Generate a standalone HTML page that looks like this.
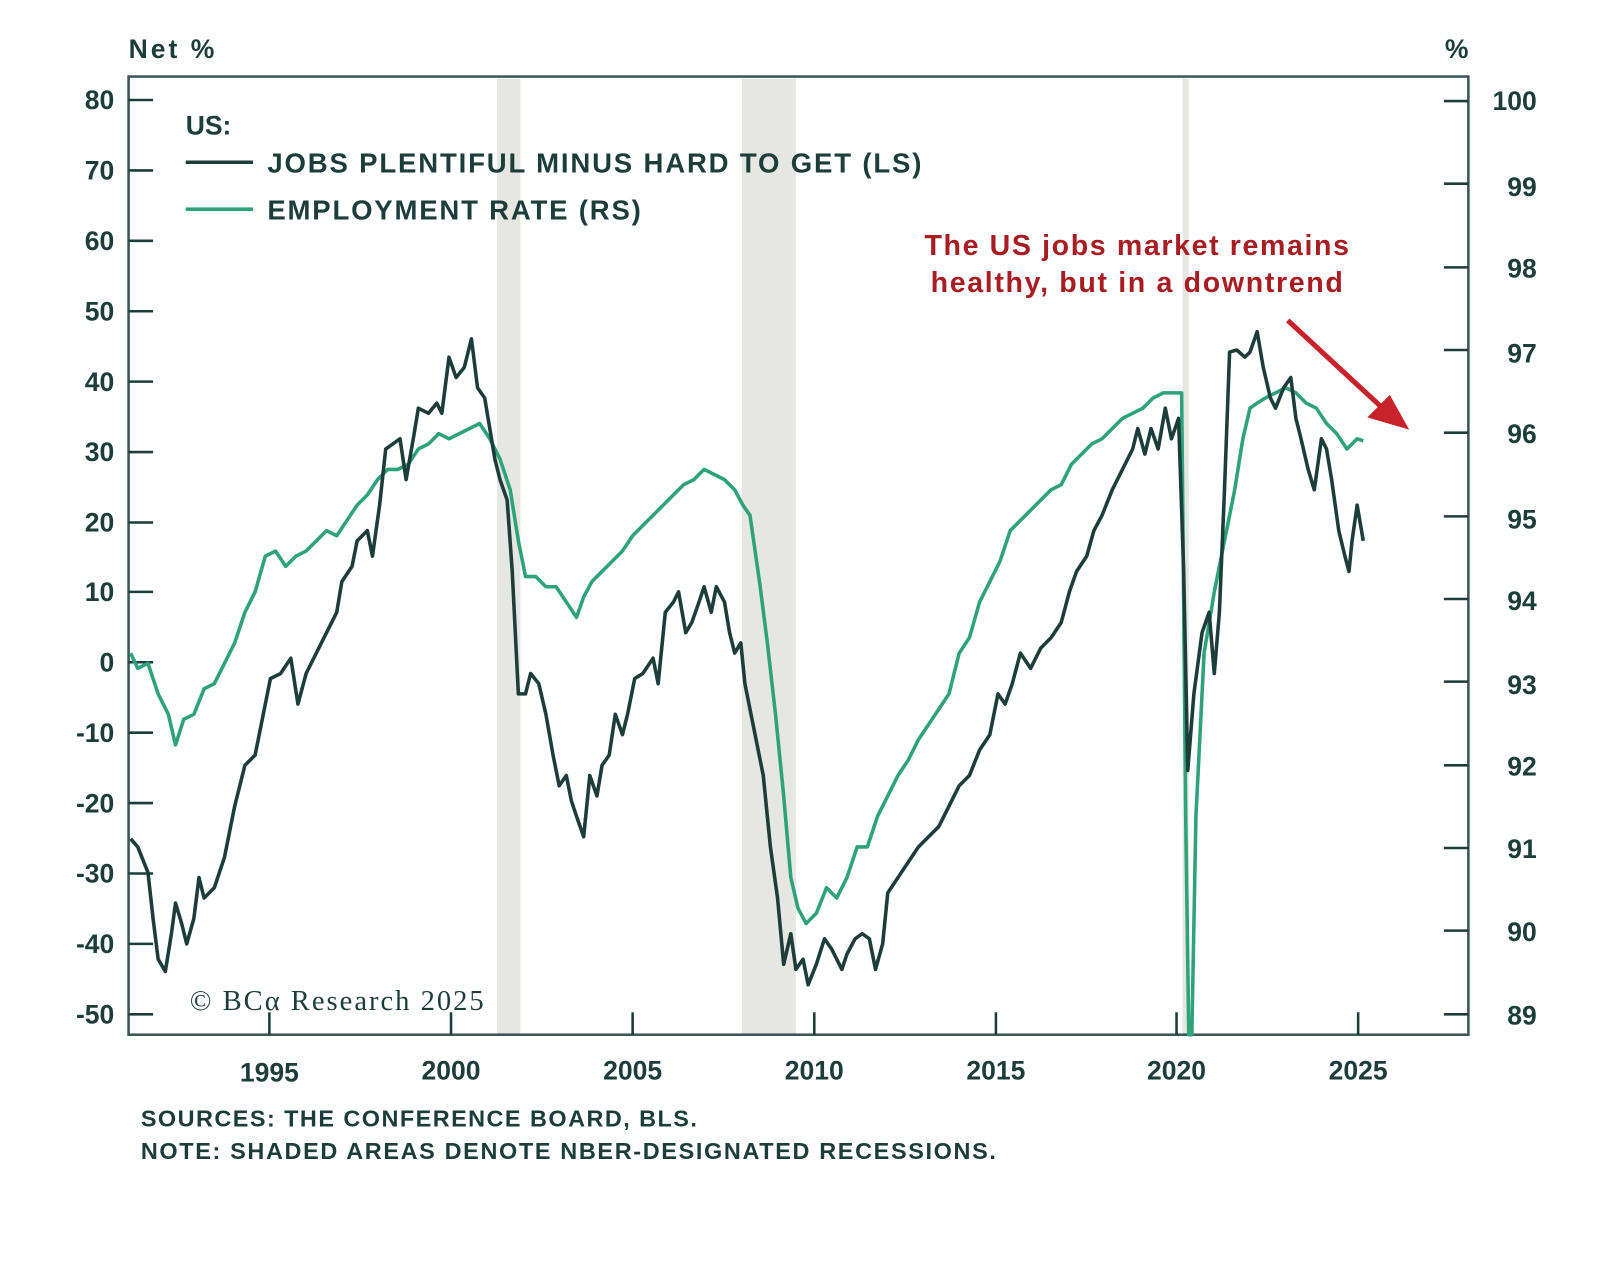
<!DOCTYPE html>
<html><head><meta charset="utf-8"><style>
html,body{margin:0;padding:0;background:#fff;}
svg{display:block;}
text{font-family:"Liberation Sans",sans-serif;fill:#1d3d3b;font-weight:bold;}
</style></head><body>
<svg width="1600" height="1263" viewBox="0 0 1568 1237.7" xmlns="http://www.w3.org/2000/svg">
<rect x="487" y="77" width="23" height="937" fill="#e6e6e2"/>
<rect x="727" y="77" width="53" height="937" fill="#e6e6e2"/>
<rect x="1159" y="77" width="6" height="937" fill="#e6e6e2"/>
<rect x="126" y="75" width="1313" height="939" fill="none" stroke="#3c5556" stroke-width="2.5"/>
<g stroke="#1d3d3b" stroke-width="2.5">
<line x1="126" y1="98" x2="150" y2="98"/><line x1="126" y1="167" x2="150" y2="167"/><line x1="126" y1="236" x2="150" y2="236"/><line x1="126" y1="305" x2="150" y2="305"/><line x1="126" y1="374" x2="150" y2="374"/><line x1="126" y1="443" x2="150" y2="443"/><line x1="126" y1="512" x2="150" y2="512"/><line x1="126" y1="580" x2="150" y2="580"/><line x1="126" y1="649" x2="150" y2="649"/><line x1="126" y1="718" x2="150" y2="718"/><line x1="126" y1="787" x2="150" y2="787"/><line x1="126" y1="856" x2="150" y2="856"/><line x1="126" y1="925" x2="150" y2="925"/><line x1="126" y1="994" x2="150" y2="994"/>
<line x1="1415" y1="99" x2="1439" y2="99"/><line x1="1415" y1="180" x2="1439" y2="180"/><line x1="1415" y1="262" x2="1439" y2="262"/><line x1="1415" y1="343" x2="1439" y2="343"/><line x1="1415" y1="424" x2="1439" y2="424"/><line x1="1415" y1="506" x2="1439" y2="506"/><line x1="1415" y1="587" x2="1439" y2="587"/><line x1="1415" y1="668" x2="1439" y2="668"/><line x1="1415" y1="750" x2="1439" y2="750"/><line x1="1415" y1="831" x2="1439" y2="831"/><line x1="1415" y1="912" x2="1439" y2="912"/><line x1="1415" y1="994" x2="1439" y2="994"/>
<line x1="264" y1="1014" x2="264" y2="992"/><line x1="442" y1="1014" x2="442" y2="992"/><line x1="620" y1="1014" x2="620" y2="992"/><line x1="798" y1="1014" x2="798" y2="992"/><line x1="976" y1="1014" x2="976" y2="992"/><line x1="1153" y1="1014" x2="1153" y2="992"/><line x1="1331" y1="1014" x2="1331" y2="992"/>
</g>
<g font-size="26" text-anchor="end">
<text x="112" y="107">80</text><text x="112" y="176">70</text><text x="112" y="245">60</text><text x="112" y="314">50</text><text x="112" y="383">40</text><text x="112" y="452">30</text><text x="112" y="521">20</text><text x="112" y="589">10</text><text x="112" y="658">0</text><text x="112" y="727">-10</text><text x="112" y="796">-20</text><text x="112" y="865">-30</text><text x="112" y="934">-40</text><text x="112" y="1003">-50</text>
</g>
<g font-size="26" text-anchor="end">
<text x="1506" y="108">100</text><text x="1506" y="192">99</text><text x="1506" y="272">98</text><text x="1506" y="355">97</text><text x="1506" y="434">96</text><text x="1506" y="518">95</text><text x="1506" y="598">94</text><text x="1506" y="680">93</text><text x="1506" y="760">92</text><text x="1506" y="841">91</text><text x="1506" y="922">90</text><text x="1506" y="1004">89</text>
</g>
<g font-size="26" text-anchor="middle">
<text x="264" y="1060">1995</text><text x="442" y="1058">2000</text><text x="620" y="1058">2005</text><text x="798" y="1058">2010</text><text x="976" y="1058">2015</text><text x="1153" y="1058">2020</text><text x="1331" y="1058">2025</text>
</g>
<text x="126" y="57" font-size="26" textLength="84">Net %</text>
<text x="1416" y="57" font-size="26">%</text>
<text x="182" y="132" font-size="26">US:</text>
<line x1="182" y1="159" x2="248" y2="159" stroke="#1d3d3b" stroke-width="3.5"/>
<line x1="182" y1="205" x2="248" y2="205" stroke="#2ea37a" stroke-width="3.5"/>
<text x="262" y="169" font-size="27" textLength="641">JOBS PLENTIFUL MINUS HARD TO GET (LS)</text>
<text x="262" y="215" font-size="27" textLength="366">EMPLOYMENT RATE (RS)</text>
<text x="906" y="250" font-size="28" textLength="416" style="fill:#a71d22">The US jobs market remains</text>
<text x="912" y="286" font-size="28" textLength="404" style="fill:#a71d22">healthy, but in a downtrend</text>
<line x1="1262" y1="314" x2="1355" y2="400" stroke="#c8232a" stroke-width="5"/>
<polygon points="1381,421 1340,409 1362,387" fill="#c8232a"/>
<text x="186" y="990" font-size="28" textLength="288" style="font-family:'Liberation Serif',serif;font-weight:normal">© BCα Research 2025</text>
<text x="138" y="1104" font-size="23" textLength="545">SOURCES: THE CONFERENCE BOARD, BLS.</text>
<text x="138" y="1136" font-size="23" textLength="838">NOTE: SHADED AREAS DENOTE NBER-DESIGNATED RECESSIONS.</text>
<polyline fill="none" stroke="#2ea37a" stroke-width="3.5" stroke-linejoin="round" points="128,640 135,655 145,650 155,680 165,700 172,730 180,705 190,700 200,675 210,670 220,650 230,630 240,600 250,580 260,545 270,540 280,555 290,545 300,540 310,530 320,520 330,525 340,510 350,495 360,485 370,470 380,460 390,460 400,455 410,440 420,435 430,425 440,430 450,425 460,420 470,415 480,430 490,450 500,480 508,530 515,565 525,565 535,575 545,575 555,590 565,605 572,585 580,570 590,560 600,550 610,540 620,525 630,515 640,505 650,495 660,485 670,475 680,470 690,460 700,465 710,470 720,480 728,495 735,505 740,540 745,575 752,630 760,700 768,780 775,860 782,890 790,905 800,895 810,870 820,880 830,860 840,830 850,830 860,800 870,780 880,760 890,745 900,725 910,710 920,695 930,680 940,640 950,625 960,590 970,570 980,550 990,520 1000,510 1010,500 1020,490 1030,480 1040,475 1050,455 1060,445 1070,435 1080,430 1090,420 1100,410 1110,405 1120,400 1130,390 1140,385 1150,385 1158,385 1162,800 1165,1014 1168,1014 1172,800 1180,640 1190,580 1200,530 1210,480 1218,430 1225,400 1232,395 1240,390 1250,385 1260,380 1270,385 1280,395 1290,400 1300,415 1310,425 1320,440 1330,430 1336,432"/>
<polyline fill="none" stroke="#1d3d3b" stroke-width="3.5" stroke-linejoin="round" points="128,822 135,830 145,855 150,900 155,940 162,952 168,915 172,885 178,905 183,925 190,900 195,860 200,880 210,870 220,840 230,790 240,750 250,740 258,700 265,665 275,660 285,645 292,690 300,660 310,640 320,620 330,600 335,570 345,555 350,530 360,520 365,545 372,495 378,440 385,435 392,430 398,470 405,430 410,400 420,405 428,395 433,405 440,350 447,370 455,360 462,332 468,380 475,390 480,420 485,450 490,470 497,490 502,560 508,680 515,680 520,660 528,670 535,700 542,740 548,770 555,760 560,785 565,800 572,820 578,760 585,780 590,750 597,740 603,700 610,720 615,700 622,665 630,660 640,645 645,670 652,600 660,590 665,580 672,620 678,610 685,590 690,575 697,600 702,575 710,590 715,620 720,640 726,630 730,670 740,720 748,760 755,830 762,880 768,945 775,915 780,950 787,940 792,965 800,945 808,920 815,930 825,950 830,935 838,920 845,915 852,920 858,950 865,925 870,875 880,860 890,845 900,830 910,820 920,810 930,790 940,770 950,760 960,735 970,720 978,680 985,690 992,670 1000,640 1010,655 1020,635 1030,625 1040,610 1048,580 1055,560 1065,545 1072,520 1080,505 1090,480 1100,460 1110,440 1115,420 1122,445 1128,420 1135,440 1142,400 1148,430 1155,410 1160,560 1164,755 1170,680 1178,620 1185,600 1190,660 1195,600 1200,480 1205,345 1212,343 1220,350 1225,345 1232,325 1238,360 1245,390 1250,400 1258,380 1265,370 1270,410 1275,430 1282,460 1288,480 1295,430 1300,440 1305,470 1312,520 1318,545 1322,560 1325,530 1330,495 1336,530"/>
</svg>
</body></html>
